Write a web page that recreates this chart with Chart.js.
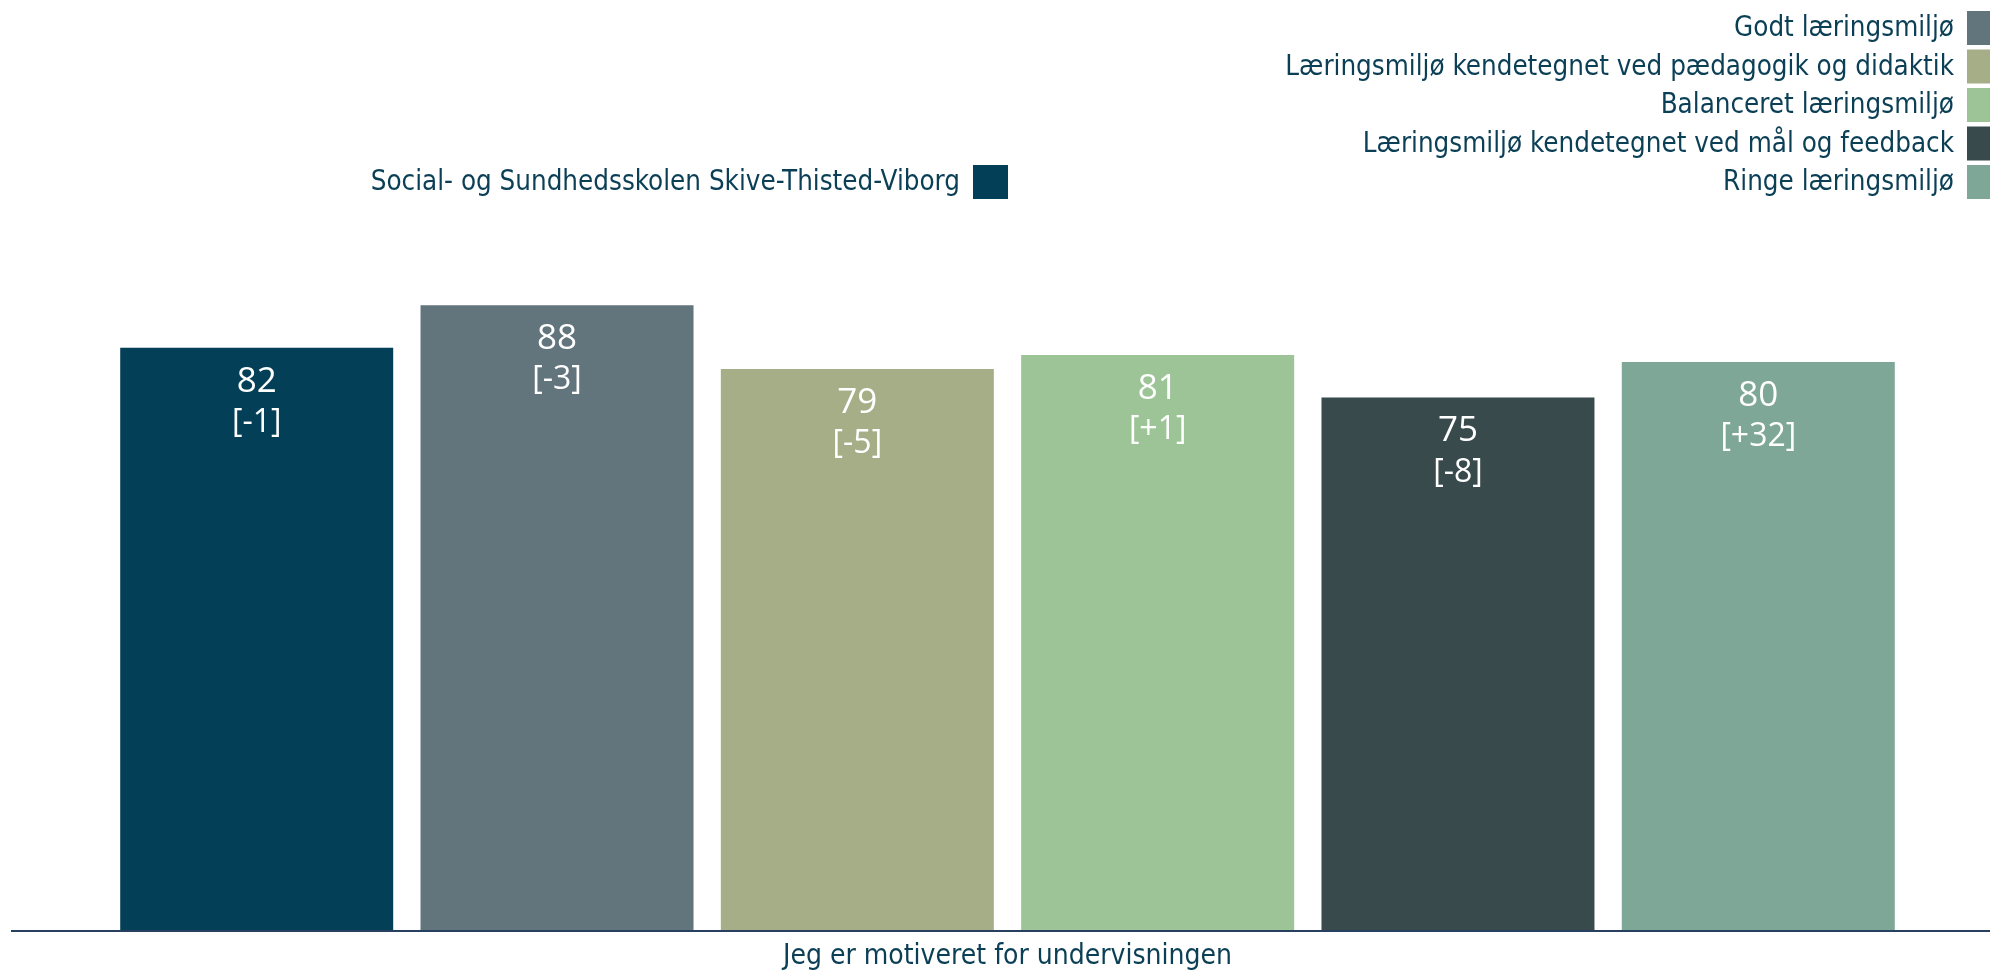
<!DOCTYPE html>
<html>
<head>
<meta charset="utf-8">
<script src="https://cdn.jsdelivr.net/npm/chart.js@4"></script>
<style>
  html, body { margin: 0; padding: 0; background: #fff; }
  #wrap { width: 1990px; height: 972px; position: relative; }
</style>
</head>
<body>
<div id="wrap"><canvas id="chart"></canvas></div>
<script>
const categories = ['Jeg er motiveret for undervisningen'];
const seriesNames = [
  'Social- og Sundhedsskolen Skive-Thisted-Viborg',
  'Godt læringsmiljø',
  'Læringsmiljø kendetegnet ved pædagogik og didaktik',
  'Balanceret læringsmiljø',
  'Læringsmiljø kendetegnet ved mål og feedback',
  'Ringe læringsmiljø'
];
const values = [82, 88, 79, 81, 75, 80];
const changes = [-1, -3, -5, 1, -8, 32];
const colors = ['#033f57', '#62757c', '#a6ae88', '#9dc497', '#384a4b', '#7ea798'];

const textColor = '#0b3f56';
const fontFamily = '"DejaVu Sans Condensed", "DejaVu Sans", sans-serif';

// value + change labels inside the bars
const barLabels = {
  id: 'barLabels',
  afterDatasetsDraw(chart) {
    const ctx = chart.ctx;
    ctx.save();
    ctx.fillStyle = '#ffffff';
    ctx.textAlign = 'center';
    ctx.textBaseline = 'middle';
    chart.data.datasets.forEach((ds, i) => {
      const bar = chart.getDatasetMeta(i).data[0];
      ctx.font = '35px "Open Sans", sans-serif';
      ctx.fillText(String(ds.data[0]), bar.x, bar.y + 34);
      ctx.font = '32px "Open Sans", sans-serif';
      const c = changes[i];
      ctx.fillText('[' + (c > 0 ? '+' + c : c) + ']', bar.x, bar.y + 75);
    });
    ctx.restore();
  }
};

// two-column legend: school on the left, learning environments stacked at the right
const customLegend = {
  id: 'customLegend',
  afterDraw(chart) {
    const ctx = chart.ctx;
    ctx.save();
    ctx.font = '27.5px ' + fontFamily;
    ctx.textAlign = 'right';
    ctx.textBaseline = 'middle';
    chart.data.datasets.forEach((ds, i) => {
      let boxX, cy;
      if (i === 0) {
        boxX = 973; cy = 182;
      } else {
        boxX = 1967; cy = 28 + (i - 1) * 38.5;
      }
      ctx.fillStyle = ds.backgroundColor;
      ctx.fillRect(boxX, cy - 17, 35, 34);
      ctx.fillStyle = textColor;
      ctx.fillText(ds.label, boxX - 13, cy + 1);
    });
    // x axis line
    const y = chart.chartArea.bottom + 1;
    ctx.strokeStyle = '#27405f';
    ctx.lineWidth = 2;
    ctx.beginPath();
    ctx.moveTo(11, y);
    ctx.lineTo(1990, y);
    ctx.stroke();
    ctx.restore();
  }
};

new Chart(document.getElementById('chart'), {
  type: 'bar',
  data: {
    labels: categories,
    datasets: seriesNames.map((name, i) => ({
      label: name,
      data: [values[i]],
      backgroundColor: colors[i],
      borderWidth: 0,
      categoryPercentage: 0.917,
      barPercentage: 0.909
    }))
  },
  options: {
    responsive: true,
    maintainAspectRatio: false,
    animation: false,
    layout: { padding: { top: 220, left: 25, right: 0, bottom: 0 } },
    plugins: {
      legend: { display: false },
      tooltip: { enabled: false }
    },
    scales: {
      x: {
        grid: { display: false },
        border: { display: false },
        ticks: { color: textColor, font: { family: fontFamily, size: 28 }, padding: 2 },
        afterFit(scale) { scale.height = 42; }
      },
      y: {
        display: false,
        min: 0,
        max: 100
      }
    }
  },
  plugins: [barLabels, customLegend]
});
</script>
</body>
</html>
